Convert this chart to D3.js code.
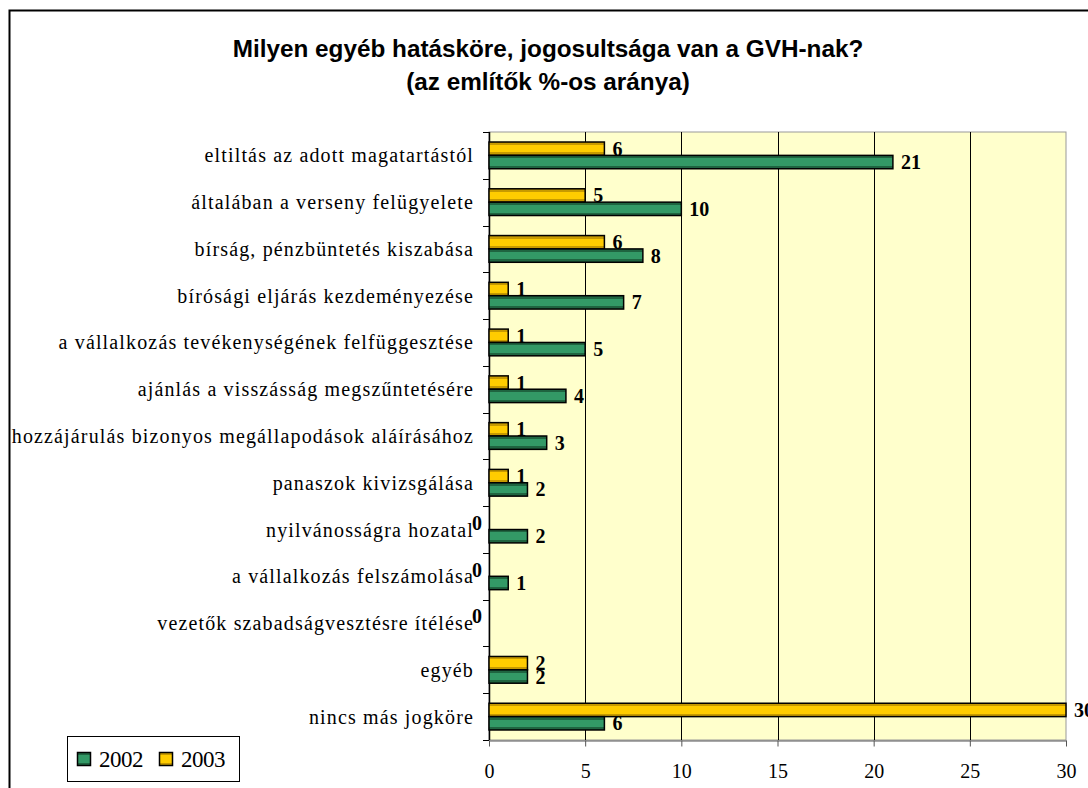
<!DOCTYPE html>
<html lang="hu">
<head>
  <meta charset="UTF-8" />
  <title>GVH jogkörök</title>
  <script src="https://d3js.org/d3.v7.min.js"></script>
  <style>
    body { margin: 0; background: white; }
    svg { display: block; }
    .cat { font-family: "Liberation Serif", "Times New Roman", serif; font-size: 20px; letter-spacing: 1.15px; fill: #000; }
    .val { font-family: "Liberation Serif", "Times New Roman", serif; font-size: 20px; font-weight: bold; fill: #000; }
    .title { font-family: "Liberation Sans", Arial, sans-serif; font-size: 24.3px; font-weight: bold; fill: #000; }
    .serif { font-family: "Liberation Serif", "Times New Roman", serif; }
  </style>
</head>
<body>
<svg id="chart" width="1088" height="788"></svg>
<script>
const categories = [
  "eltiltás az adott magatartástól",
  "általában a verseny felügyelete",
  "bírság, pénzbüntetés kiszabása",
  "bírósági eljárás kezdeményezése",
  "a vállalkozás tevékenységének felfüggesztése",
  "ajánlás a visszásság megszűntetésére",
  "hozzájárulás bizonyos megállapodások aláírásához",
  "panaszok kivizsgálása",
  "nyilvánosságra hozatal",
  "a vállalkozás felszámolása",
  "vezetők szabadságvesztésre ítélése",
  "egyéb",
  "nincs más jogköre"
];
const values2002 = [21, 10, 8, 7, 5, 4, 3, 2, 2, 1, null, 2, 6];
const values2003 = [6, 5, 6, 1, 1, 1, 1, 1, 0, 0, 0, 2, 30];
const xTicks = [0, 5, 10, 15, 20, 25, 30];
const seriesNames = ["2003", "2002"]; // order inside each category, top to bottom
const legendNames = ["2002", "2003"];

const svg = d3.select("#chart");
const defs = svg.append("defs");

// stripe look of the bars: dark edge, bright middle
function stripe(id, dark, bright) {
  const g = defs.append("linearGradient").attr("id", id)
    .attr("x1", 0).attr("y1", 0).attr("x2", 0).attr("y2", 1);
  [[0, dark], [0.22, dark], [0.22, bright], [0.78, bright], [0.78, dark], [1, dark]]
    .forEach(([o, c]) => g.append("stop").attr("offset", o).attr("stop-color", c));
}
stripe("g2002", "#1f6440", "#339966");
stripe("g2003", "#c79a00", "#ffcc00");
const fills = { "2002": "url(#g2002)", "2003": "url(#g2003)" };

// outer chart frame
svg.append("rect").attr("x", 9.5).attr("y", 10.5).attr("width", 1100).attr("height", 800)
  .attr("fill", "white").attr("stroke", "#000").attr("stroke-width", 2);

svg.append("text").attr("class", "title").attr("x", 548).attr("y", 57)
  .attr("text-anchor", "middle").text("Milyen egyéb hatásköre, jogosultsága van a GVH-nak?");
svg.append("text").attr("class", "title").attr("x", 548).attr("y", 90)
  .attr("text-anchor", "middle").text("(az említők %-os aránya)");

const x = d3.scaleLinear().domain([0, 30]).range([489, 1066]);
const y = d3.scaleBand().domain(categories).range([132, 740])
  .paddingInner(1.5 / 3.5).paddingOuter(0.75 / 3.5);
const ys = d3.scaleBand().domain(seriesNames).range([0, y.bandwidth()]);

// plot area
svg.append("rect").attr("x", x(0)).attr("y", 132).attr("width", x(30) - x(0)).attr("height", 608)
  .attr("fill", "#ffffcc").attr("stroke", "#999").attr("stroke-width", 1);

svg.append("g").selectAll("line").data(xTicks.slice(1, -1)).join("line")
  .attr("x1", d => Math.round(x(d)) + 0.5).attr("x2", d => Math.round(x(d)) + 0.5)
  .attr("y1", 132).attr("y2", 740).attr("stroke", "#000").attr("stroke-width", 1);

// x axis
const xAxis = svg.append("g").attr("transform", "translate(0,740.5)")
  .call(d3.axisBottom(x).tickValues(xTicks).tickSize(6).tickPadding(17).tickSizeOuter(0));
xAxis.select(".domain").attr("stroke", "#555");
xAxis.selectAll(".tick line").attr("stroke", "#555");
xAxis.selectAll("text").attr("class", "serif").attr("font-family", null)
  .attr("font-size", 20).attr("fill", "#000");

// y axis: line and ticks at category boundaries
const half = (y.step() - y.bandwidth()) / 2;
const bounds = categories.map(c => y(c) - half).concat([740]);
svg.append("line").attr("x1", 489.5).attr("x2", 489.5).attr("y1", 132).attr("y2", 740)
  .attr("stroke", "#000").attr("stroke-width", 1.5);
svg.append("g").selectAll("line").data(bounds).join("line")
  .attr("x1", 483).attr("x2", 489).attr("y1", d => Math.round(d) + 0.5).attr("y2", d => Math.round(d) + 0.5)
  .attr("stroke", "#000");

svg.append("g").selectAll("text").data(categories).join("text")
  .attr("class", "cat").attr("x", 474).attr("y", d => y(d) + y.bandwidth() / 2)
  .attr("dy", "0.35em").attr("text-anchor", "end").text(d => d);

// bars
const rows = categories.map((c, i) => ({ cat: c, "2002": values2002[i], "2003": values2003[i] }));
const cells = rows.flatMap(r => seriesNames.map(s => ({ cat: r.cat, s, v: r[s] })))
  .filter(d => d.v !== null);

svg.append("g").selectAll("rect").data(cells.filter(d => d.v > 0)).join("rect")
  .attr("x", x(0)).attr("y", d => y(d.cat) + ys(d.s))
  .attr("width", d => x(d.v) - x(0)).attr("height", ys.bandwidth())
  .attr("fill", d => fills[d.s]).attr("stroke", "#000").attr("stroke-width", 1.5);

svg.append("g").selectAll("text").data(cells).join("text")
  .attr("class", "val")
  .attr("x", d => d.v > 0 ? x(d.v) + 8 : x(0) - 17)
  .attr("y", d => y(d.cat) + ys(d.s) + ys.bandwidth() / 2)
  .attr("dy", "0.35em").text(d => d.v);

// legend
const lg = svg.append("g");
lg.append("rect").attr("x", 67.5).attr("y", 736.5).attr("width", 172).attr("height", 45)
  .attr("fill", "white").attr("stroke", "#000");
const lx = [77, 159];
legendNames.forEach((n, i) => {
  lg.append("rect").attr("x", lx[i] + 0.5).attr("y", 752.5).attr("width", 13).attr("height", 13)
    .attr("fill", fills[n]).attr("stroke", "#000").attr("stroke-width", 1.5);
  lg.append("text").attr("class", "serif").attr("x", lx[i] + 22).attr("y", 767)
    .attr("font-size", 23).attr("letter-spacing", -0.5).text(n);
});
</script>
</body>
</html>
